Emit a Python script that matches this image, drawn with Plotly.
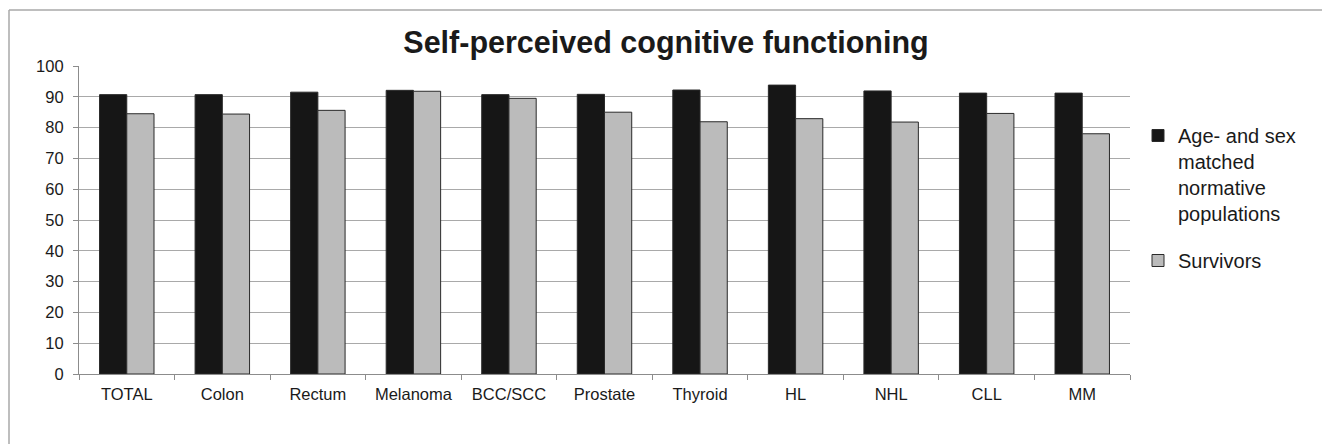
import plotly.graph_objects as go

categories = ["TOTAL", "Colon", "Rectum", "Melanoma", "BCC/SCC", "Prostate",
              "Thyroid", "HL", "NHL", "CLL", "MM"]
normative = [90.7, 90.7, 91.5, 92.1, 90.7, 90.8, 92.2, 93.8, 91.9, 91.2, 91.2]
survivors = [84.5, 84.4, 85.6, 91.8, 89.5, 85.0, 81.9, 82.9, 81.8, 84.6, 78.0]
y_ticks = list(range(0, 101, 10))

W, H = 1322, 444
L, R, T, B = 79, 192, 66, 70
FONT = "Liberation Sans, Arial, sans-serif"

fig = go.Figure()
fig.add_trace(go.Bar(
    x=categories, y=normative,
    name="Age- and sex<br>matched<br>normative<br>populations",
    marker=dict(color="#161616", line=dict(color="#2a2a2a", width=1)),
    legendgroup="a",
))
fig.add_trace(go.Bar(
    x=categories, y=survivors, name="Survivors",
    marker=dict(color="#bbbbbb", line=dict(color="#2a2a2a", width=1)),
    legendgroup="b",
))

# outer frame (left and top edges visible)
pw, ph = W - L - R, H - T - B
def px_x(p):
    return (p - L) / pw
def px_y(p):
    return (H - B - p) / ph
frame = dict(type="line", xref="paper", yref="paper",
             line=dict(color="#a9a9a9", width=1.5), layer="below")
fig.add_shape(**frame, x0=px_x(9), x1=px_x(9), y0=px_y(10), y1=px_y(460))
fig.add_shape(**frame, x0=px_x(9), x1=px_x(1340), y0=px_y(10), y1=px_y(10))

fig.update_layout(
    width=W, height=H,
    margin=dict(l=L, r=R, t=T, b=B, pad=0),
    paper_bgcolor="white", plot_bgcolor="white",
    font=dict(family=FONT, size=16, color="#1a1a1a"),
    title=dict(text="<b>Self-perceived cognitive functioning</b>",
               font=dict(family=FONT, size=30.5, color="#1a1a1a"),
               x=666 / W, xref="container", xanchor="center",
               y=1 - 42 / H, yref="container", yanchor="middle"),
    barmode="group", bargap=0.43, bargroupgap=0,
    legend=dict(x=px_x(1138), y=px_y(116), xanchor="left", yanchor="top",
                font=dict(family=FONT, size=20, color="#1a1a1a"),
                valign="top", traceorder="grouped", tracegroupgap=18,
                bgcolor="rgba(0,0,0,0)"),
    showlegend=True,
)
fig.update_xaxes(
    showgrid=False, showline=True, linecolor="#8c8c8c", linewidth=1.2,
    ticks="outside", ticklen=5, tickcolor="#8c8c8c",
    tickson="boundaries", tickfont=dict(size=16.5, color="#1a1a1a"),
    ticklabelstandoff=5,
)
fig.update_yaxes(
    range=[0, 100], tickvals=y_ticks, showgrid=True, gridcolor="#a9a9a9",
    gridwidth=1.2, showline=True, linecolor="#8c8c8c", linewidth=1.2,
    ticks="outside", ticklen=5, tickcolor="#8c8c8c", zeroline=False,
    tickfont=dict(size=16.5, color="#1a1a1a"), ticklabelstandoff=6,
)

fig.write_html("out.html")
